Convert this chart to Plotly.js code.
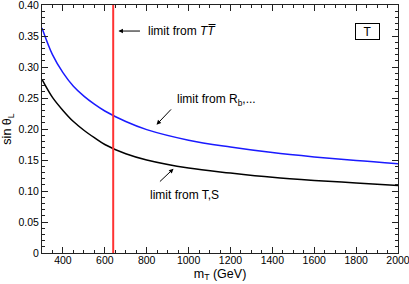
<!DOCTYPE html>
<html>
<head>
<meta charset="utf-8">
<script src="https://cdn.plot.ly/plotly-3.0.1.min.js"></script>
<style>html,body{margin:0;padding:0;background:#fff;}#chart{width:409px;height:284px;}</style>
</head>
<body>
<div id="chart"></div>
<script>
// m_T values (GeV)
var mT = [300, 350, 400, 450, 500, 550, 600, 700, 800, 1000, 1200, 1400, 1600, 1800, 2000];
// limit from R_b,... (blue)
var sinRb = [0.363, 0.320, 0.291, 0.269, 0.253, 0.240, 0.229, 0.212, 0.199, 0.182, 0.171, 0.162, 0.155, 0.149, 0.144];
// limit from T,S (black)
var sinTS = [0.280, 0.251, 0.230, 0.212, 0.198, 0.186, 0.175, 0.160, 0.150, 0.137, 0.129, 0.122, 0.117, 0.113, 0.109];
// limit from T Tbar (vertical red line)
var mTlimit = [640, 640];
var mTlimitY = [0, 0.4];
// tick labels
var yTickVals = [0, 0.05, 0.10, 0.15, 0.20, 0.25, 0.30, 0.35, 0.40];
var yTickText = ["0", "0.05", "0.10", "0.15", "0.20", "0.25", "0.30", "0.35", "0.40"];
var xTickVals = [400, 600, 800, 1000, 1200, 1400, 1600, 1800, 2000];
var xTickText = ["400", "600", "800", "1000", "1200", "1400", "1600", "1800", "2000"];

var FONT = "Liberation Sans, Arial, Helvetica, sans-serif";
var AX = "#222";

var traces = [
  {x: mT, y: sinRb, mode: "lines", line: {color: "#1a1aff", width: 1.5, shape: "spline", smoothing: 1}, hoverinfo: "skip"},
  {x: mT, y: sinTS, mode: "lines", line: {color: "#000", width: 1.5, shape: "spline", smoothing: 1}, hoverinfo: "skip"},
  {x: mTlimit, y: mTlimitY, mode: "lines", line: {color: "#ff3333", width: 2}, hoverinfo: "skip"}
];

function arrow(x, y, ax, ay) {
  return {x: x, y: y, ax: ax, ay: ay, axref: "x", ayref: "y", xref: "x", yref: "y",
    text: "", showarrow: true, arrowhead: 2, arrowsize: 0.9, arrowwidth: 1, arrowcolor: "#000"};
}
function label(x, y, t) {
  return {x: x, y: y, xref: "x", yref: "y", text: t, showarrow: false, xanchor: "left", yanchor: "middle",
    font: {family: FONT, size: 12, color: "#000"}};
}

var layout = {
  width: 409, height: 284,
  margin: {l: 41.5, r: 11.3, t: 5, b: 30.7},
  paper_bgcolor: "#fff", plot_bgcolor: "#fff",
  showlegend: false,
  font: {family: FONT, size: 10.5, color: "#000"},
  xaxis: {
    range: [300, 2000], tickmode: "array", tickvals: xTickVals, ticktext: xTickText,
    ticks: "inside", ticklen: 6, tickwidth: 1, tickcolor: AX, ticklabeloverflow: "allow",
    ticklabelstandoff: -3,
    minor: {dtick: 50, tick0: 0, ticks: "inside", ticklen: 3, tickwidth: 1, tickcolor: AX, showgrid: false},
    showline: true, linecolor: AX, linewidth: 1, mirror: "ticks",
    showgrid: false, zeroline: false,
    tickfont: {family: FONT, size: 10.5, color: "#000"},
    title: {text: "m<sub>T</sub> (GeV)", font: {family: FONT, size: 12.5, color: "#000"}, standoff: 4}
  },
  yaxis: {
    range: [0, 0.4], tickmode: "array", tickvals: yTickVals, ticktext: yTickText,
    ticks: "inside", ticklen: 6, tickwidth: 1, tickcolor: AX, ticklabeloverflow: "allow",
    minor: {dtick: 0.01, tick0: 0, ticks: "inside", ticklen: 3, tickwidth: 1, tickcolor: AX, showgrid: false},
    showline: true, linecolor: AX, linewidth: 1, mirror: "ticks",
    showgrid: false, zeroline: false,
    tickfont: {family: FONT, size: 10.5, color: "#000"},
    title: {text: "sin θ<sub>L</sub>", font: {family: FONT, size: 12.5, color: "#000"}, standoff: 6}
  },
  annotations: [
    arrow(665, 0.358, 775, 0.358),
    label(795, 0.358, "limit from <i>TT\u0305</i>"),
    arrow(847, 0.207, 923, 0.234),
    label(935, 0.247, "limit from R<sub>b</sub>,..."),
    arrow(928, 0.136, 856, 0.113),
    label(806, 0.094, "limit from T,S"),
    {x: 1852, y: 0.357, xref: "x", yref: "y", text: "T", showarrow: false,
     font: {family: FONT, size: 12, color: "#000"}, bordercolor: "#000", borderwidth: 1,
     borderpad: 1, width: 21, height: 13, bgcolor: "#fff"}
  ]
};

Plotly.newPlot("chart", traces, layout, {staticPlot: true, displayModeBar: false});
</script>
</body>
</html>
